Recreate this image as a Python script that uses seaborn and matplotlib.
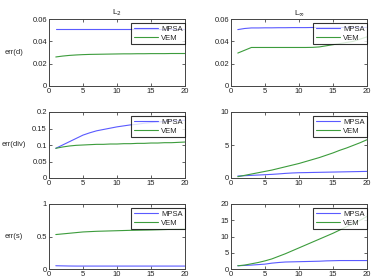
import matplotlib
matplotlib.use("Agg")
import matplotlib.pyplot as plt
import numpy as np
import seaborn as sns

# refinement steps
steps = list(range(1, 21))

# err(d)
d_l2_mpsa = [0.051] * 20
d_l2_vem = [0.026, 0.0268, 0.0274, 0.0278, 0.0281, 0.0283, 0.0284, 0.0285, 0.0286, 0.0287,
            0.0288, 0.0288, 0.0289, 0.0289, 0.0290, 0.0290, 0.0290, 0.0291, 0.0291, 0.0291]
d_linf_mpsa = [0.0505, 0.0515, 0.052, 0.052, 0.0521, 0.0521, 0.0522, 0.0522, 0.0523, 0.0523,
               0.0523, 0.0524, 0.0524, 0.0524, 0.0525, 0.0525, 0.0525, 0.0525, 0.0525, 0.0525]
d_linf_vem = [0.0295, 0.032, 0.0345, 0.0345, 0.0345, 0.0345, 0.0345, 0.0345, 0.0345, 0.0345,
              0.0345, 0.0346, 0.035, 0.036, 0.037, 0.038, 0.039, 0.040, 0.042, 0.044]

# err(div)
div_l2_mpsa = [0.09, 0.100, 0.110, 0.120, 0.130, 0.137, 0.143, 0.147, 0.151, 0.155,
               0.158, 0.161, 0.163, 0.166, 0.168, 0.170, 0.171, 0.173, 0.174, 0.175]
div_l2_vem = [0.09, 0.094, 0.097, 0.099, 0.100, 0.101, 0.102, 0.102, 0.103, 0.103,
              0.104, 0.104, 0.105, 0.105, 0.106, 0.106, 0.107, 0.107, 0.108, 0.109]
div_linf_mpsa = [0.3, 0.35, 0.4, 0.45, 0.5, 0.55, 0.62, 0.7, 0.76, 0.8,
                 0.82, 0.84, 0.86, 0.88, 0.9, 0.92, 0.94, 0.96, 0.98, 1.0]
div_linf_vem = [0.2, 0.4, 0.6, 0.8, 1.0, 1.2, 1.45, 1.7, 1.95, 2.2,
                2.5, 2.8, 3.1, 3.45, 3.8, 4.2, 4.55, 4.95, 5.35, 5.8]

# err(s)
s_l2_mpsa = [0.05, 0.048, 0.046, 0.045, 0.045, 0.045, 0.045, 0.045, 0.045, 0.045,
             0.045, 0.045, 0.045, 0.045, 0.045, 0.045, 0.045, 0.045, 0.045, 0.045]
s_l2_vem = [0.53, 0.54, 0.55, 0.56, 0.57, 0.575, 0.58, 0.583, 0.586, 0.589,
            0.592, 0.595, 0.597, 0.599, 0.601, 0.604, 0.607, 0.610, 0.613, 0.616]
s_linf_mpsa = [1.0, 1.1, 1.2, 1.35, 1.5, 1.8, 2.0, 2.15, 2.2, 2.25,
               2.3, 2.35, 2.4, 2.5, 2.55, 2.6, 2.6, 2.6, 2.6, 2.6]
s_linf_vem = [1.0, 1.2, 1.6, 2.0, 2.5, 3.1, 3.9, 4.7, 5.6, 6.5,
              7.4, 8.3, 9.2, 10.1, 11.0, 12.0, 13.0, 14.0, 15.0, 16.2]

row_labels = ["err(d)", "err(div)", "err(s)"]
col_titles = ["L$_2$", "L$_\\infty$"]
panels = [
    [(d_l2_mpsa, d_l2_vem, 0.06, [0, 0.02, 0.04, 0.06]),
     (d_linf_mpsa, d_linf_vem, 0.06, [0, 0.02, 0.04, 0.06])],
    [(div_l2_mpsa, div_l2_vem, 0.2, [0, 0.05, 0.1, 0.15, 0.2]),
     (div_linf_mpsa, div_linf_vem, 10, [0, 5, 10])],
    [(s_l2_mpsa, s_l2_vem, 1, [0, 0.5, 1]),
     (s_linf_mpsa, s_linf_vem, 20, [0, 5, 10, 15, 20])],
]

sns.set_style("ticks")
plt.rcParams['font.family'] = ['Liberation Sans', 'DejaVu Sans']
plt.rcParams['font.size'] = 5.5

W, H = 374, 279
fig = plt.figure(figsize=(W / 100, H / 100), dpi=100)

lefts = [49, 231]
rows = [(19, 86), (112, 178), (204, 269)]
blue = "#5a5aff"
green = "#3c9c3c"

for r in range(3):
    for c in range(2):
        top, bot = rows[r]
        ax = fig.add_axes([lefts[c] / W, 1 - bot / H, 136 / W, (bot - top) / H])
        mpsa, vem, ymax, yt = panels[r][c]
        sns.lineplot(x=steps, y=mpsa, color=blue, lw=0.8, ax=ax, label="MPSA")
        sns.lineplot(x=steps, y=vem, color=green, lw=0.8, ax=ax, label="VEM")
        ax.set_xlim(0, 20)
        ax.set_ylim(0, ymax)
        ax.set_xticks([0, 5, 10, 15, 20])
        ax.set_yticks(yt)
        ax.set_yticklabels([f"{v:g}" for v in yt])
        ax.tick_params(direction="in", length=2, width=0.5, top=True, right=True,
                       labelsize=5.5, pad=1.5, colors="#222222")
        for s in ax.spines.values():
            s.set_linewidth(0.7)
            s.set_color("#444444")
            s.set_visible(True)
        leg = ax.legend(loc="upper right", bbox_to_anchor=(1.0, 1 - 4 / (bot - top)),
                        borderaxespad=0, fontsize=5.5, frameon=True, fancybox=False,
                        handlelength=3.2, handletextpad=0.4, borderpad=0.3,
                        labelspacing=0.2)
        leg.get_frame().set_edgecolor("black")
        leg.get_frame().set_linewidth(0.8)
        if r == 0:
            ax.set_title(col_titles[c], fontsize=6, pad=3)
        if c == 0:
            ax.set_ylabel(row_labels[r], rotation=0, fontsize=5.5, ha="center", va="center")
            ax.yaxis.set_label_coords(-0.26, 0.5)
        else:
            ax.set_ylabel("")

fig.savefig("out.png", dpi=100)
